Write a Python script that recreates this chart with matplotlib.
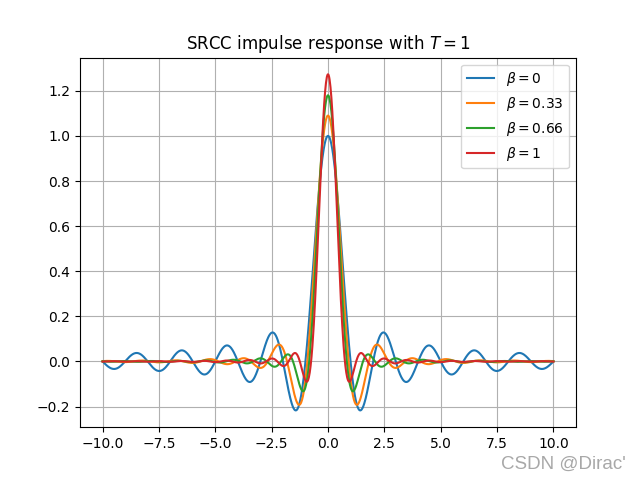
import numpy as np
import matplotlib.pyplot as plt

# roll-off factors and symbol period shown in the chart
betas = [0, 0.33, 0.66, 1]
beta_labels = ['0', '0.33', '0.66', '1']
T = 1
t = np.linspace(-10, 10, 1000)


def srrc(t, beta, T):
    # square-root raised cosine impulse response
    with np.errstate(divide='ignore', invalid='ignore'):
        num = np.sin(np.pi * t / T * (1 - beta)) + 4 * beta * t / T * np.cos(np.pi * t / T * (1 + beta))
        den = np.pi * t / T * (1 - (4 * beta * t / T) ** 2)
        h = num / den
    h = np.where(np.isclose(t, 0), 1 - beta + 4 * beta / np.pi, h)
    if beta > 0:
        lim = beta / np.sqrt(2) * ((1 + 2 / np.pi) * np.sin(np.pi / (4 * beta))
                                   + (1 - 2 / np.pi) * np.cos(np.pi / (4 * beta)))
        h = np.where(np.isclose(np.abs(t), T / (4 * beta)), lim, h)
    return h


fig = plt.figure(figsize=(6.4, 4.8), dpi=100)
for b, lab in zip(betas, beta_labels):
    plt.plot(t, srrc(t, b, T), label=r'$\beta=' + lab + '$')
plt.title(r'SRCC impulse response with $T=1$')
plt.grid(True)
plt.legend(loc='upper right')

# watermark
fig.text(0.978, 0.015, "CSDN @Dirac'", ha='right', va='bottom',
         fontsize=13.5, color='#a8a8a8', family='Liberation Sans')

plt.savefig('out.png')
